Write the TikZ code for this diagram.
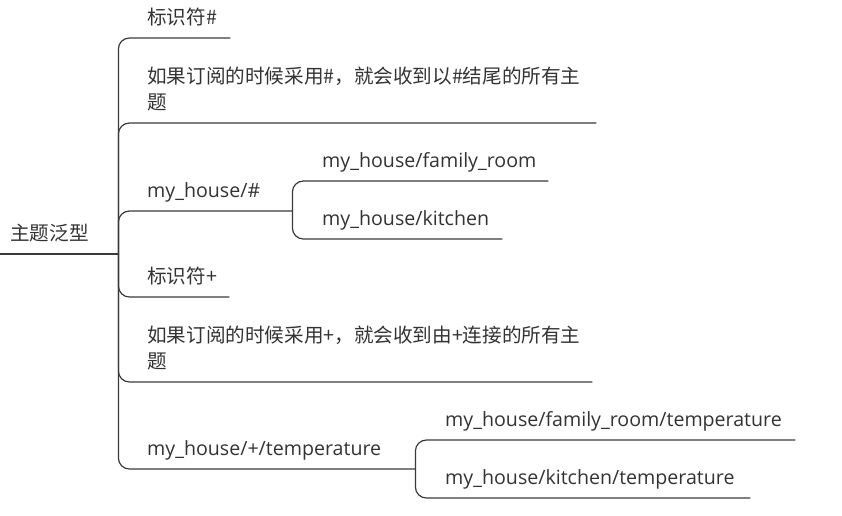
\documentclass[tikz,border=0pt]{standalone}
\usepackage{fontspec}
\setmainfont{Open Sans}
\newfontfamily\cjk{Noto Sans CJK SC}
\usetikzlibrary{positioning}
\definecolor{ink}{HTML}{333333}
\definecolor{edge}{HTML}{3A3A3A}

\tikzset{
  topic/.style={anchor=south west,inner xsep=0pt,inner ysep=0pt,text depth=13.5pt,
    align=left,text=ink,font=\fontsize{19.6}{26}\selectfont},
  twoline/.style={topic,text depth=39.5pt},
  branch/.style={draw=edge,line width=1.2pt,rounded corners=11pt}
}

\begin{document}
\begin{tikzpicture}[x=1pt,y=-1pt]
\useasboundingbox (0,0) rectangle (842,515);
% root
\node[topic,inner xsep=10pt,text width=98pt] (root) at (0,254) {\cjk 主题泛型};
\draw[branch] (root.south west) -- (root.south east);
% first level
\node[topic,text width=83pt] (mark1) at (147,38) {\cjk 标识符\#};
\node[twoline,text width=449pt] (rule1) at (147,123) {\cjk 如果订阅的时候采用\#，就会收到以\#结尾的所有主\\\cjk 题};
\node[topic,text width=145pt] (eg1) at (147,211) {my\_house/\#};
\node[topic,text width=82pt] (mark2) at (147,297) {\cjk 标识符+};
\node[twoline,text width=445pt] (rule2) at (147,382) {\cjk 如果订阅的时候采用+，就会收到由+连接的所有主\\\cjk 题};
\node[topic,text width=268pt] (eg2) at (147,469) {my\_house/+/temperature};
\foreach \n in {mark1,rule1,eg1,mark2,rule2,eg2}
  \draw[branch] (root.south east) |- (\n.south west) -- (\n.south east);
% second level
\node[topic,text width=226pt] (room1) at (322,181) {my\_house/family\_room};
\node[topic,text width=180pt] (room2) at (322,239) {my\_house/kitchen};
\foreach \n in {room1,room2}
  \draw[branch] (eg1.south east) |- (\n.south west) -- (\n.south east);
\node[topic,text width=350pt] (temp1) at (445,440) {my\_house/family\_room/temperature};
\node[topic,text width=305pt] (temp2) at (445,498) {my\_house/kitchen/temperature};
\foreach \n in {temp1,temp2}
  \draw[branch] (eg2.south east) |- (\n.south west) -- (\n.south east);
\end{tikzpicture}
\end{document}
